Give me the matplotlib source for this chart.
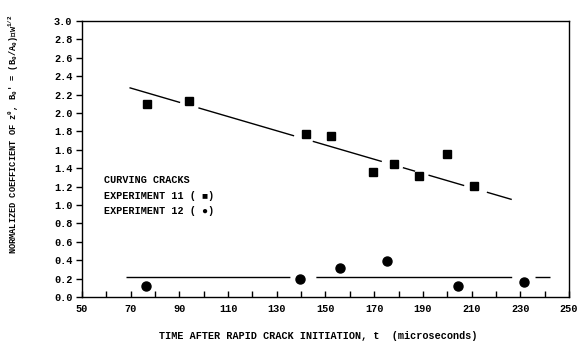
import matplotlib
matplotlib.use("Agg")
import matplotlib.pyplot as plt
import numpy as np

# Experiment 11 (squares)
exp11_t = [76.6, 94.1, 142.0, 152.1, 169.6, 178.3, 188.5, 200.1, 211.1]
exp11_b = [2.10, 2.13, 1.77, 1.75, 1.36, 1.45, 1.31, 1.55, 1.21]

# Experiment 12 (circles)
exp12_t = [76.1, 139.5, 156.1, 175.1, 204.3, 231.6]
exp12_b = [0.12, 0.20, 0.31, 0.39, 0.12, 0.16]

# fitted lines, end points
fit11_t = [69.5, 226.5]
fit11_b = [2.275, 1.06]
fit12_t = [68.0, 242.2]
fit12_b = [0.215, 0.215]

x_ticks = np.arange(50, 251, 10)
x_labels = [str(v) if (v - 50) % 20 == 0 else "" for v in x_ticks]
y_ticks = np.arange(0, 3.01, 0.2)

font = "Liberation Mono"
plt.rcParams["font.family"] = font
plt.rcParams["font.weight"] = "bold"
plt.rcParams["mathtext.fontset"] = "custom"
plt.rcParams["mathtext.rm"] = "Liberation Mono:bold"
plt.rcParams["mathtext.default"] = "regular"

fig = plt.figure(figsize=(5.79, 3.46), dpi=100)
ax = fig.add_axes([0.1416, 0.1416, 0.8411, 0.7977])

ax.plot(exp11_t, exp11_b, linestyle="none", marker="s", markersize=6,
        color="black")
ax.plot(exp12_t, exp12_b, linestyle="none", marker="o", markersize=6.5,
        color="black")

# broken fit lines as in the scan
ax.plot(fit11_t, fit11_b, color="black", lw=1.0,
        dashes=(38, 13.7, 71.8, 14, 51.8, 15.8, 9.2, 10, 26.8, 17, 20, 10))
ax.plot(fit12_t, fit12_b, color="black", lw=1.0,
        dashes=(118, 18.7, 141, 16.8, 11, 10))

ax.set_xlim(50, 250)
ax.set_ylim(0, 3.0)
ax.set_xticks(x_ticks)
ax.set_xticklabels(x_labels)
ax.set_yticks(y_ticks)
ax.set_yticklabels([f"{v:.1f}" for v in y_ticks])
ax.tick_params(axis="x", direction="in", length=4, width=1, labelsize=7.4, pad=5)
ax.tick_params(axis="y", direction="out", length=4, width=1, labelsize=7.4, pad=3)
for s in ax.spines.values():
    s.set_linewidth(1.0)

ax.text(0.045, 0.423, "CURVING CRACKS", transform=ax.transAxes, fontsize=7.3,
        va="center", ha="left")
ax.text(0.045, 0.366, "EXPERIMENT 11 ( \u25A0)", transform=ax.transAxes,
        fontsize=7.3, va="center", ha="left", family=[font, "DejaVu Sans"])
ax.text(0.045, 0.312, "EXPERIMENT 12 ( \u25CF)", transform=ax.transAxes,
        fontsize=7.3, va="center", ha="left", family=[font, "DejaVu Sans"])

fig.text(0.55, 0.028, "TIME AFTER RAPID CRACK INITIATION, t  (microseconds)",
         ha="center", va="center", fontsize=7.3)
fig.text(0.024, 0.613,
         "NORMALIZED COEFFICIENT OF z$^{0}$, B$_{0}$' = (B$_{0}$/A$_{0}$)$\\cdot$w$^{1/2}$",
         rotation=90, ha="center", va="center", fontsize=6.2)

fig.savefig("out.png", dpi=100)
